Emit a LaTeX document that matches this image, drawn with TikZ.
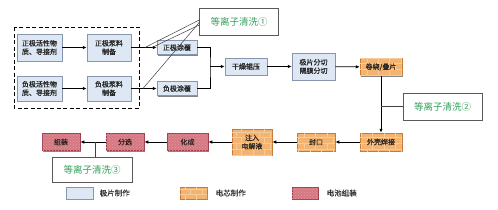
\documentclass[tikz,border=0pt]{standalone}
\usepackage{fontspec}
\setmainfont{Noto Sans CJK SC}
\newfontfamily\boxfont{Noto Sans CJK SC}[FakeBold=0.6]
\usetikzlibrary{arrows.meta,shadows,patterns}
\definecolor{elecblue}{RGB}{222,232,244}
\definecolor{elecedge}{RGB}{135,150,172}
\definecolor{cellorange}{RGB}{242,180,112}
\definecolor{celledge}{RGB}{196,124,56}
\definecolor{packred}{RGB}{214,120,130}
\definecolor{packedge}{RGB}{160,62,78}
\definecolor{plasmagreen}{RGB}{52,160,92}

\begin{document}
\begin{tikzpicture}[x=1pt, y=-1pt,
    anybox/.style={align=center, inner sep=1pt, line width=0.5pt, text=black!85, font=\boxfont\fontsize{7}{8.5}\selectfont, drop shadow={shadow xshift=1.3pt, shadow yshift=-1.3pt, fill=black!60, opacity=0.8}},
    ebox/.style={anybox, draw=elecedge, fill=elecblue},
    cbox/.style={anybox, draw=celledge, fill=cellorange, postaction={pattern=bricks, pattern color=cellorange!70!white}},
    pbox/.style={anybox, draw=packedge, fill=packred, postaction={pattern=crosshatch dots, pattern color=packred!75!white}},
    plasma/.style={draw=black!65, fill=white, line width=0.5pt, minimum width=79pt, minimum height=27pt, text=plasmagreen, font=\fontsize{9.5}{11}\selectfont},
    flow/.style={-{Latex[length=4pt,width=3.5pt]}, line width=0.8pt},
    callout/.style={line width=0.5pt, draw=black!75}
  ]
  \useasboundingbox (0,0) rectangle (498,209);

  % slurry preparation
  \draw[dashed, line width=1pt, dash pattern=on 4pt off 2.5pt] (14,27) rectangle (139,108);
  \node[ebox, minimum width=45pt, minimum height=27pt] (posact) at (39.5,47.5) {正极活性物\\质、导接剂};
  \node[ebox, minimum width=44pt, minimum height=27pt] (posslurry) at (109,47.5) {正极浆料\\制备};
  \node[ebox, minimum width=45pt, minimum height=25pt] (negact) at (39.5,88.5) {负极活性物\\质、导接剂};
  \node[ebox, minimum width=44pt, minimum height=25pt] (negslurry) at (109,88.5) {负极浆料\\制备};

  % electrode line
  \node[ebox, minimum width=40pt, minimum height=14pt] (poscoat) at (177,47.5) {正极涂覆};
  \node[ebox, minimum width=40pt, minimum height=14pt] (negcoat) at (177,88.5) {负极涂覆};
  \node[ebox, minimum width=42pt, minimum height=17pt] (dry) at (246,66.5) {干燥辊压};
  \node[ebox, minimum width=43pt, minimum height=27pt] (cut) at (313.5,66.5) {极片分切\\隔膜分切};

  % cell line
  \node[cbox, minimum width=42pt, minimum height=17pt] (wind) at (381,67) {卷绕/叠片};
  \node[cbox, minimum width=42pt, minimum height=18pt] (weld) at (381,142) {外壳焊接};
  \node[cbox, minimum width=38pt, minimum height=18pt] (seal) at (316,142) {封口};
  \node[cbox, minimum width=40pt, minimum height=26pt] (inject) at (252,142) {注入\\电解液};

  % pack line
  \node[pbox, minimum width=41pt, minimum height=17pt] (formation) at (187.5,142) {化成};
  \node[pbox, minimum width=38pt, minimum height=17pt] (sorting) at (125,142) {分选};
  \node[pbox, minimum width=38pt, minimum height=17pt] (assembly) at (61,142) {组装};

  % plasma cleaning
  \node[plasma] (clean1) at (239,21.5) {等离子清洗①};
  \node[plasma] (clean2) at (442.5,106.5) {等离子清洗②};
  \node[plasma, minimum width=80pt, minimum height=25pt] (clean3) at (92,169.5) {等离子清洗③};

  % flow
  \draw[flow] (posact) -- (posslurry);
  \draw[flow] (negact) -- (negslurry);
  \draw[flow] (posslurry) -- (poscoat);
  \draw[flow] (negslurry) -- (negcoat);
  \coordinate (merge) at (210,66.5);
  \draw[line width=0.8pt] (poscoat.east) -| (merge) |- (negcoat.east);
  \draw[flow] (merge) -- (dry);
  \draw[flow] (dry) -- (cut);
  \draw[flow] (cut) -- (wind);
  \draw[flow] (wind) -- (weld);
  \draw[flow] (weld) -- (seal);
  \draw[flow] (seal) -- (inject);
  \draw[flow] (inject) -- (formation);
  \draw[flow] (formation) -- (sorting);
  \draw[flow] (sorting) -- (assembly);

  % callouts
  \coordinate (tip1a) at (145,47.5);
  \coordinate (tip1b) at (152,47.5);
  \coordinate (tip1c) at (143,88.5);
  \draw[callout] ([yshift=1.5pt]clean1.west) -- (tip1a);
  \draw[callout] ([yshift=-3.5pt]clean1.west) -- (tip1b);
  \draw[callout] ([yshift=-1pt]clean1.west) -- (tip1c);
  \draw[callout] (clean2.west) -- (clean2.west -| wind);
  \draw[callout] (clean3.north -| 95,0) -- (95,142);

  % legend
  \node[ebox, minimum width=27pt, minimum height=12pt] (keyelec) at (79.5,193) {};
  \node[font=\boxfont\fontsize{7.5}{9}\selectfont, text=black!80, right=3pt] (txtelec) at (keyelec.east) {极片制作};
  \node[cbox, minimum width=27pt, minimum height=12pt] (keycell) at (193.5,193) {};
  \node[font=\boxfont\fontsize{7.5}{9}\selectfont, text=black!80, right=5pt] (txtcell) at (keycell.east) {电芯制作};
  \node[pbox, minimum width=26pt, minimum height=12pt] (keypack) at (305,193) {};
  \node[font=\boxfont\fontsize{7.5}{9}\selectfont, text=black!80, right=5pt] (txtpack) at (keypack.east) {电池组装};
\end{tikzpicture}
\end{document}
